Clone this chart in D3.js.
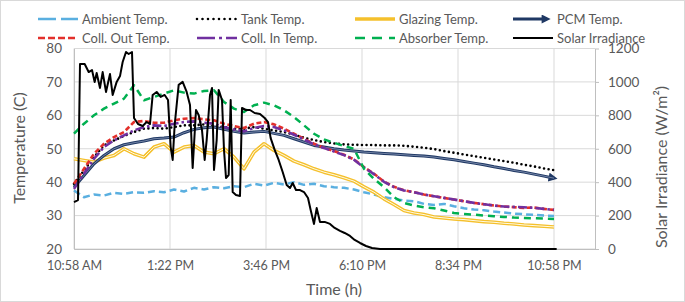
<!DOCTYPE html>
<html>
<head>
<meta charset="utf-8">
<script src="https://cdn.jsdelivr.net/npm/d3@7"></script>
<style>
  body { margin: 0; background: #fff; }
  text { font-family: Lato, "Open Sans", sans-serif; fill: #595959; }
</style>
</head>
<body>
<div id="chart"></div>
<script>
// minutes elapsed since 10:58 AM, one temperature reading every 15 min
var tempMinutes = [0, 15, 30, 45, 60, 75, 90, 105, 120, 135,
  150, 165, 180, 195, 210, 225, 240, 255, 270, 285,
  300, 315, 330, 345, 360, 375, 390, 405, 420, 435,
  450, 465, 480, 495, 510, 525, 540, 555, 570, 585,
  600, 615, 630, 645, 660, 675, 690, 705, 720];

var ambientTemp = [37.5, 35.5, 36.3, 36.0, 36.8, 36.5, 37.0, 36.8, 37.3, 37.0,
  37.8, 37.2, 38.3, 37.8, 38.5, 38.2, 38.8, 38.5, 39.5, 39.0,
  39.8, 39.3, 40.0, 39.2, 39.5, 38.8, 38.5, 38.3, 37.8, 37.0,
  36.3, 35.5, 35.0, 34.5, 34.3, 33.5, 33.2, 33.5, 32.8, 32.2,
  31.8, 31.6, 31.2, 30.9, 30.6, 30.4, 30.2, 30.0, 29.9];

var tankTemp = [39.5, 43.5, 47.5, 51.0, 52.5, 53.8, 55.0, 56.0, 56.2, 56.0,
  56.5, 57.0, 57.0, 57.3, 56.8, 56.5, 56.0, 56.0, 56.5, 56.0,
  55.5, 55.0, 54.2, 53.3, 52.6, 52.0, 51.6, 51.3, 51.2, 51.1,
  51.1, 51.0, 51.0, 50.9, 50.6, 50.3, 49.9, 49.3, 48.8, 48.3,
  47.8, 47.3, 46.8, 46.3, 45.8, 45.2, 44.7, 44.1, 43.6];

var glazingTemp = [47.0, 46.5, 46.0, 47.2, 48.0, 50.0, 48.5, 47.5, 50.5, 51.5,
  49.0, 50.5, 51.0, 49.0, 48.5, 50.0, 47.5, 44.0, 49.0, 51.5,
  49.5, 48.0, 46.3, 45.2, 44.0, 43.0, 42.2, 41.3, 40.3, 38.6,
  37.0, 35.0, 33.3, 31.5, 30.8, 30.3, 29.6, 29.3, 29.0, 28.8,
  28.5, 28.2, 28.0, 27.7, 27.5, 27.2, 27.0, 26.8, 26.6];

var pcmTemp = [38.5, 42.0, 45.5, 48.0, 50.0, 51.2, 51.8, 52.3, 53.0, 53.2,
  53.5, 54.8, 55.8, 56.3, 56.5, 55.8, 55.2, 54.7, 55.0, 55.2,
  54.6, 54.0, 53.0, 52.0, 51.0, 50.5, 50.0, 49.6, 49.3, 49.0,
  48.8, 48.6, 48.4, 48.2, 48.0, 47.8, 47.5, 47.1, 46.7, 46.2,
  45.7, 45.2, 44.6, 44.1, 43.5, 43.0, 42.4, 41.8, 41.2];

var collOutTemp = [39.5, 44.0, 48.5, 51.5, 53.5, 55.0, 58.0, 58.3, 57.8, 57.8,
  58.5, 59.0, 59.2, 58.8, 58.5, 57.5, 56.8, 56.2, 57.5, 58.0,
  57.3, 56.0, 54.5, 53.0, 51.5, 50.3, 49.3, 48.2, 46.8, 44.5,
  42.5, 40.2, 38.6, 37.6, 37.0, 36.3, 35.8, 35.3, 34.8, 34.3,
  33.8, 33.4, 33.0, 32.7, 32.5, 32.3, 32.4, 32.0, 31.7];

var collInTemp = [38.0, 42.5, 47.0, 50.5, 52.5, 54.0, 55.5, 56.5, 57.0, 56.8,
  57.5, 58.0, 58.2, 57.8, 57.5, 56.5, 55.8, 55.2, 56.2, 56.8,
  56.5, 55.5, 54.2, 52.8, 51.3, 50.2, 49.2, 48.1, 46.7, 44.4,
  42.4, 40.1, 38.5, 37.5, 37.0, 36.3, 35.8, 35.3, 34.8, 34.3,
  33.8, 33.4, 33.0, 32.7, 32.6, 32.5, 32.3, 32.0, 31.7];

var absorberTemp = [54.5, 57.5, 60.0, 62.0, 63.5, 65.0, 69.0, 64.5, 65.5, 66.5,
  67.5, 66.8, 66.5, 67.3, 67.5, 64.0, 62.0, 61.0, 63.0, 63.8,
  63.0, 61.5, 59.5, 57.0, 54.5, 52.8, 51.8, 50.8, 50.0, 44.0,
  41.0, 38.5, 35.5, 33.8, 33.0, 32.5, 32.2, 31.5, 30.8, 30.5,
  30.3, 30.0, 29.8, 29.6, 29.4, 29.3, 29.2, 29.1, 29.0];

// solar irradiance, own (irregular) timeline in minutes since 10:58 AM
var solarMinutes = [0, 6, 9, 16, 22, 27, 31, 34, 39, 43,
  48, 54, 58, 64, 69, 73, 78, 82, 87, 90,
  96, 103, 109, 114, 118, 124, 130, 136, 141, 145,
  148, 151, 157, 163, 169, 174, 178, 183, 187, 192,
  196, 199, 204, 207, 210, 214, 217, 222, 225, 228,
  232, 235, 238, 243, 249, 252, 258, 264, 271, 279,
  286, 291, 295, 301, 307, 313, 319, 324, 328, 333,
  339, 345, 351, 355, 360, 364, 369, 376, 384, 391,
  399, 406, 414, 421, 429, 438, 447, 459, 724];

var solarIrradiance = [281, 293, 1107, 1107, 1059, 1071, 1000, 1053, 964, 1059,
  940, 1047, 922, 1000, 1035, 1119, 1179, 1167, 1179, 784,
  748, 736, 760, 748, 922, 940, 910, 922, 892, 610,
  533, 742, 982, 1000, 940, 862, 485, 832, 802, 712,
  533, 652, 922, 964, 473, 652, 952, 892, 593, 425,
  443, 892, 341, 323, 317, 844, 832, 832, 814, 808,
  784, 760, 664, 593, 533, 461, 383, 365, 395, 353,
  353, 341, 305, 233, 150, 245, 162, 162, 150, 126,
  108, 96, 78, 54, 36, 18, 6, 0, 0];

var timeTicks = [0, 144, 288, 432, 576, 720];
var timeLabels = ['10:58 AM', '1:22 PM', '3:46 PM', '6:10 PM', '8:34 PM', '10:58 PM'];
var tempTicks = [20, 30, 40, 50, 60, 70, 80];
var solarTicks = [0, 200, 400, 600, 800, 1000, 1200];

// series order follows the legend (row by row)
var seriesNames = ['Ambient Temp.', 'Tank Temp.', 'Glazing Temp.', 'PCM Temp.',
  'Coll. Out Temp.', 'Coll. In Temp.', 'Absorber Temp.', 'Solar Irradiance'];
var tempSeries = [ambientTemp, tankTemp, glazingTemp, pcmTemp, collOutTemp, collInTemp, absorberTemp];

var styles = {
  'Ambient Temp.':   { color: '#5aafe0', width: 2.5, dash: '7,4', legendDash: '18,5' },
  'Tank Temp.':      { color: '#000', width: 2.6, dash: '0,4.6', legendDash: '0,5.5', cap: 'round' },
  'Glazing Temp.':   { color: '#f5c02c', width: 3.6, inner: '#fffbe6', legendWidth: 3.5 },
  'PCM Temp.':       { color: '#1f3864', width: 3, arrow: true, inner: '#7384a6' },
  'Coll. Out Temp.': { color: '#e3302b', width: 2.6, dash: '5,2.6', legendDash: '7,3' },
  'Coll. In Temp.':  { color: '#7030a0', width: 2.6, dash: '9,3,2.5,3', legendDash: '18,4,3,4' },
  'Absorber Temp.':  { color: '#00b050', width: 2.5, dash: '7,5', legendDash: '10,7' },
  'Solar Irradiance': { color: '#000', width: 2 }
};

var chart_width = 685, chart_height = 302;
var plotLeft = 74, plotRight = 595, plotTop = 48.5, plotBottom = 249;

var svg = d3.select('#chart')
  .append('svg')
  .attr('width', chart_width)
  .attr('height', chart_height);

svg.append('rect')
  .attr('x', 0.5).attr('y', 0.5)
  .attr('width', chart_width - 1).attr('height', chart_height - 1)
  .attr('fill', '#fff').attr('stroke', '#d9d9d9');

var defs = svg.append('defs');
defs.append('marker')
  .attr('id', 'arrow')
  .attr('viewBox', '0 0 10 10')
  .attr('refX', 6).attr('refY', 5)
  .attr('markerUnits', 'userSpaceOnUse')
  .attr('markerWidth', 11).attr('markerHeight', 9)
  .attr('orient', 'auto')
  .append('path')
  .attr('d', 'M0,0 L10,5 L0,10 z')
  .attr('fill', '#1f3864');

// scales
var x = d3.scaleLinear().domain([0, 781.5]).range([plotLeft, plotRight]);
var yTemp = d3.scaleLinear().domain([20, 80]).range([plotBottom, plotTop]);
var ySolar = d3.scaleLinear().domain([0, 1200]).range([plotBottom, plotTop]);

// gridlines
svg.append('g').selectAll('line')
  .data(tempTicks)
  .enter().append('line')
  .attr('x1', plotLeft).attr('x2', plotRight)
  .attr('y1', function(d) { return yTemp(d); })
  .attr('y2', function(d) { return yTemp(d); })
  .attr('stroke', '#d9d9d9');

svg.append('g').selectAll('line')
  .data(timeTicks)
  .enter().append('line')
  .attr('x1', function(d) { return x(d); })
  .attr('x2', function(d) { return x(d); })
  .attr('y1', plotTop).attr('y2', plotBottom)
  .attr('stroke', '#d9d9d9');

// axes
function styleAxis(g, size) {
  g.attr('font-family', null).attr('font-size', null);
  g.selectAll('text').style('font-size', size + 'px');
  g.select('.domain').attr('stroke', '#bfbfbf');
  g.selectAll('.tick line').attr('stroke', '#bfbfbf');
}

var leftAxis = svg.append('g')
  .attr('transform', 'translate(' + plotLeft + ',0)')
  .call(d3.axisLeft(yTemp).tickValues(tempTicks).tickSize(0).tickPadding(12));
styleAxis(leftAxis, 13.5);

var rightAxis = svg.append('g')
  .attr('transform', 'translate(' + plotRight + ',0)')
  .call(d3.axisRight(ySolar).tickValues(solarTicks).tickFormat(d3.format('d'))
    .tickSize(4).tickSizeOuter(0).tickPadding(9));
styleAxis(rightAxis, 13.5);

var bottomAxis = svg.append('g')
  .attr('transform', 'translate(0,' + plotBottom + ')')
  .call(d3.axisBottom(x).tickValues(timeTicks)
    .tickFormat(function(d, i) { return timeLabels[i]; })
    .tickSize(0).tickPadding(12));
styleAxis(bottomAxis, 12.5);

// series lines
function drawLine(values, times, yScale, st) {
  var line = d3.line()
    .x(function(d, i) { return x(times[i]); })
    .y(function(d) { return yScale(d); });
  var p = svg.append('path')
    .datum(values)
    .attr('d', line)
    .attr('fill', 'none')
    .attr('stroke', st.color)
    .attr('stroke-width', st.width)
    .attr('stroke-linejoin', 'round')
    .attr('stroke-linecap', st.cap || 'butt');
  if (st.dash) p.attr('stroke-dasharray', st.dash);
  if (st.arrow) p.attr('marker-end', 'url(#arrow)');
  if (st.inner) {
    svg.append('path')
      .datum(values)
      .attr('d', line)
      .attr('fill', 'none')
      .attr('stroke', st.inner)
      .attr('stroke-width', 1)
      .attr('stroke-linejoin', 'round');
  }
}

tempSeries.forEach(function(values, i) {
  drawLine(values, tempMinutes, yTemp, styles[seriesNames[i]]);
});
drawLine(solarIrradiance, solarMinutes, ySolar, styles['Solar Irradiance']);

// axis titles
svg.append('text')
  .attr('transform', 'translate(18,148) rotate(-90)')
  .attr('text-anchor', 'middle')
  .attr('dominant-baseline', 'central')
  .style('font-size', '16px')
  .text('Temperature (C)');

svg.append('text')
  .attr('transform', 'translate(660,167) rotate(-90)')
  .attr('text-anchor', 'middle')
  .attr('dominant-baseline', 'central')
  .style('font-size', '16px')
  .text('Solar Irradiance (W/m²)');

svg.append('text')
  .attr('x', 334).attr('y', 288)
  .attr('text-anchor', 'middle')
  .attr('dominant-baseline', 'central')
  .style('font-size', '16px')
  .text('Time (h)');

// legend, 4 columns x 2 rows
var legendX = [38, 197, 355, 513];
var legendY = [19, 38];

var legend = svg.append('g').selectAll('g')
  .data(seriesNames)
  .enter().append('g')
  .attr('transform', function(d, i) {
    return 'translate(' + legendX[i % 4] + ',' + legendY[Math.floor(i / 4)] + ')';
  });

legend.append('line')
  .attr('x1', 0).attr('x2', function(d) { return styles[d].arrow ? 34 : 40; })
  .attr('y1', 0).attr('y2', 0)
  .attr('stroke', function(d) { return styles[d].color; })
  .attr('stroke-width', function(d) { return styles[d].legendWidth || styles[d].width; })
  .attr('stroke-linecap', function(d) { return styles[d].cap || 'butt'; })
  .attr('stroke-dasharray', function(d) { return styles[d].legendDash || null; })
  .attr('marker-end', function(d) { return styles[d].arrow ? 'url(#arrow)' : null; });

legend.append('text')
  .attr('x', 44)
  .attr('dominant-baseline', 'central')
  .style('font-size', '13px')
  .text(function(d) { return d; });
</script>
</body>
</html>
